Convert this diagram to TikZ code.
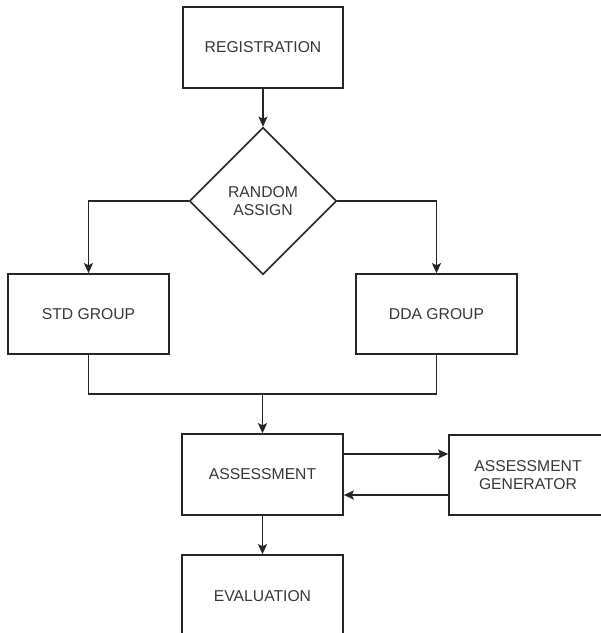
\documentclass[tikz,border=0pt]{standalone}
\usepackage{fontspec}
\setmainfont{Liberation Sans}
\usetikzlibrary{shapes.geometric,arrows.meta}
\definecolor{ln}{HTML}{262626}
\definecolor{tx}{HTML}{383838}
\tikzset{
  box/.style={draw=ln,line width=1.6pt,fill=white,rectangle,inner sep=0pt,
    text=tx,font=\fontsize{15.7}{17.5}\selectfont,align=center},
  dia/.style={draw=ln,line width=1.6pt,fill=white,diamond,aspect=1,inner sep=0pt,
    minimum width=147pt,minimum height=147pt,text=tx,font=\fontsize{15.7}{17.5}\selectfont,align=center},
  conn/.style={draw=ln,line width=1.6pt,-{Stealth[length=10pt,width=9pt,inset=2pt]}},
  plain/.style={draw=ln,line width=1.6pt}
}
\begin{document}
\begin{tikzpicture}[x=1pt,y=-1pt]
\useasboundingbox (0,0) rectangle (601,633);
\clip (0,0) rectangle (601,633);
\node[box,minimum width=160pt,minimum height=81pt] (reg) at (263,47.5) {REGISTRATION};
\node[dia] (rnd) at (263,201) {RANDOM\\ASSIGN};
\node[box,minimum width=161pt,minimum height=80pt] (std) at (88.5,314) {STD GROUP};
\node[box,minimum width=161pt,minimum height=80pt] (dda) at (436.5,314) {DDA GROUP};
\node[box,minimum width=161pt,minimum height=81pt] (ass) at (262.5,474.5) {ASSESSMENT};
\node[box,minimum width=158pt,minimum height=80pt] (gen) at (528,475) {ASSESSMENT\\GENERATOR};
\node[box,minimum width=161pt,minimum height=82pt] (eva) at (262.5,596) {EVALUATION};
\coordinate (mL) at (88.5,394);
\coordinate (mR) at (436.5,394);
\coordinate (mC) at (262.5,394);
\draw[conn] (reg.south) -- (rnd.north);
\draw[conn] (rnd.west) -| (std.north);
\draw[conn] (rnd.east) -| (dda.north);
\draw[plain] (std.south) -- (mL) -- (mR) -- (dda.south);
\draw[conn] (mC) -- (ass.north);
\draw[conn] (ass.east |- 0,454) -- (gen.west |- 0,454);
\draw[conn] (gen.west |- 0,495) -- (ass.east |- 0,495);
\draw[conn] (ass.south) -- (eva.north);
\end{tikzpicture}
\end{document}
